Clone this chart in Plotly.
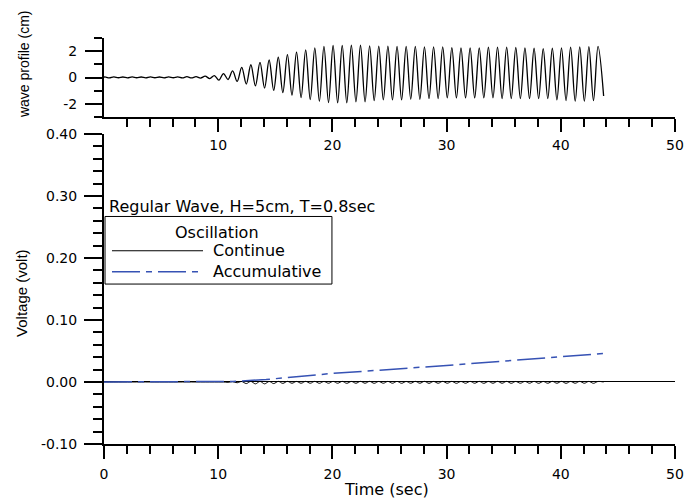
import plotly.graph_objects as go

# ---------------- data ----------------
# wave profile: crest / trough values per wave cycle (period 0.8 s)
WAVE_T0 = 0.06          # time of first crest (s)
HALF_PERIOD = 0.4       # s
WAVE_END_T = 43.75
WAVE_END_V = -1.40
wave_crest = [0.04, 0.05, 0.04, 0.05, 0.04, 0.05, 0.04, 0.05, 0.05, 0.06,
              0.06, 0.10, 0.15, 0.30, 0.50,
              0.77, 0.97, 1.15, 1.33, 1.54, 1.74, 1.92, 2.10, 2.25, 2.36,
              2.43, 2.43, 2.45, 2.45, 2.40, 2.38, 2.38, 2.36, 2.36, 2.36,
              2.32, 2.32, 2.32, 2.27, 2.25, 2.25, 2.25, 2.30, 2.30, 2.30,
              2.28, 2.25, 2.22, 2.20, 2.22, 2.25, 2.30, 2.33, 2.35, 2.36]
wave_trough = [-0.03, -0.02, -0.03, -0.02, -0.03, -0.02, -0.03, -0.02, -0.03, -0.03,
               -0.04, -0.08, -0.20, -0.15, -0.30,
               -0.50, -0.64, -0.80, -0.98, -1.15, -1.34, -1.52, -1.67, -1.80, -1.90,
               -1.92, -1.92, -1.85, -1.85, -1.75, -1.70, -1.70, -1.70, -1.65, -1.65,
               -1.60, -1.60, -1.55, -1.55, -1.55, -1.55, -1.55, -1.55, -1.60, -1.60,
               -1.60, -1.60, -1.60, -1.60, -1.70, -1.75, -1.80, -1.80, -1.75]

# voltage, "Continue": small oscillation per cycle
cont_crest = [0.0, 0.0, 0.0, 0.0, 0.0, 0.0, 0.0, 0.0, 0.0, 0.0,
              0.0, 0.0, 0.0, 0.0, 0.0005,
              0.0008, 0.0010, 0.0010, 0.0009, 0.0010, 0.0010, 0.0009, 0.0010, 0.0010, 0.0009,
              0.0010, 0.0010, 0.0009, 0.0010, 0.0010, 0.0009, 0.0010, 0.0010, 0.0009, 0.0010,
              0.0010, 0.0009, 0.0010, 0.0010, 0.0009, 0.0010, 0.0010, 0.0009, 0.0010, 0.0010,
              0.0009, 0.0010, 0.0010, 0.0009, 0.0010, 0.0010, 0.0009, 0.0010, 0.0010, 0.0009]
cont_trough = [0.0, 0.0, 0.0, 0.0, 0.0, 0.0, 0.0, 0.0, 0.0, 0.0,
               0.0, 0.0, 0.0, -0.0005, -0.0012,
               -0.0025, -0.0030, -0.0030, -0.0025, -0.0022, -0.0020, -0.0020, -0.0020, -0.0021, -0.0020,
               -0.0020, -0.0021, -0.0020, -0.0020, -0.0021, -0.0020, -0.0020, -0.0021, -0.0020, -0.0020,
               -0.0021, -0.0020, -0.0020, -0.0021, -0.0020, -0.0020, -0.0021, -0.0020, -0.0020, -0.0021,
               -0.0020, -0.0020, -0.0021, -0.0020, -0.0020, -0.0021, -0.0020, -0.0020, -0.0021]

# voltage, "Accumulative"
acc_t = [0, 8, 11.3, 14.2, 17.2, 20.1, 23.0, 25.9, 30, 35, 40, 43.75]
acc_v = [0, 0.0003, 0.001, 0.004, 0.0097, 0.014, 0.0177, 0.021, 0.0267, 0.0337, 0.0407, 0.046]

# tick labels
top_x_ticks = [10, 20, 30, 40, 50]
top_x_labels = ["10", "20", "30", "40", "50"]
top_y_ticks = [-2, 0, 2]
top_y_labels = ["-2", "0", "2"]
bot_x_ticks = [0, 10, 20, 30, 40, 50]
bot_x_labels = ["0", "10", "20", "30", "40", "50"]
bot_y_ticks = [-0.1, 0.0, 0.1, 0.2, 0.3, 0.4]
bot_y_labels = ["-0.10", "0.00", "0.10", "0.20", "0.30", "0.40"]

# ---------------- build series ----------------
def interleave(crest, trough, end_v):
    t, v = [0.0], [0.0]
    for k, c in enumerate(crest):
        t.append(WAVE_T0 + 2 * k * HALF_PERIOD)
        v.append(c)
        if k < len(trough):
            t.append(WAVE_T0 + (2 * k + 1) * HALF_PERIOD)
            v.append(trough[k])
    t.append(WAVE_END_T)
    v.append(end_v)
    return t, v

wave_t, wave_v = interleave(wave_crest, wave_trough, WAVE_END_V)
cont_t, cont_v = interleave(cont_crest, cont_trough, 0.0)

BLUE = "#3652b4"
DASH = "28px,6px,6px,6px"

fig = go.Figure()
fig.add_trace(go.Scatter(x=wave_t, y=wave_v, mode="lines", name="wave profile",
                         line=dict(color="black", width=1.3, shape="spline", smoothing=1.0),
                         xaxis="x", yaxis="y"))
fig.add_trace(go.Scatter(x=cont_t, y=cont_v, mode="lines", name="Continue",
                         line=dict(color="black", width=1, shape="spline", smoothing=1.0),
                         xaxis="x2", yaxis="y2"))
fig.add_trace(go.Scatter(x=acc_t, y=acc_v, mode="lines", name="Accumulative",
                         line=dict(color=BLUE, width=1.5, dash=DASH),
                         xaxis="x2", yaxis="y2"))

tickfont = dict(family="DejaVu Sans", size=14, color="black")
common = dict(showline=True, linecolor="black", linewidth=2, ticks="outside",
              tickwidth=2, tickcolor="black", showgrid=False,
              tickfont=tickfont)

minor_x = [v for v in range(2, 50, 2) if v % 10 != 0]
minor_y_bot = [round(-0.1 + 0.02 * i, 2) for i in range(26)]
minor_y_bot = [v for v in minor_y_bot if abs(round(v * 10) - v * 10) > 1e-6]

# page has an 8px body margin: figure is sized/margined so the plot area lands
# at page pixels x 104..675, y 38..444
fig.update_layout(
    width=688, height=492,
    margin=dict(l=96, r=21, t=30, b=56),
    plot_bgcolor="white", paper_bgcolor="white",
    showlegend=False,
    font=dict(family="DejaVu Sans", color="black"),
    xaxis=dict(domain=[0, 1], anchor="y", range=[0, 50],
               tickmode="array", tickvals=top_x_ticks, ticktext=top_x_labels, ticklen=13,
               ticklabelstandoff=1, zeroline=False,
               minor=dict(tickmode="array", tickvals=minor_x, ticks="outside", ticklen=8,
                          tickwidth=2, tickcolor="black", showgrid=False),
               **common),
    yaxis=dict(domain=[0.8054, 1], anchor="x", range=[-3, 3],
               tickmode="array", tickvals=top_y_ticks, ticktext=top_y_labels, ticklen=17,
               ticklabelstandoff=5, zeroline=False,
               minor=dict(tickmode="array", tickvals=[-3, -1, 1, 3], ticks="outside", ticklen=8,
                          tickwidth=2, tickcolor="black", showgrid=False),
               **common),
    xaxis2=dict(domain=[0, 1], anchor="y2", range=[0, 50],
                tickmode="array", tickvals=bot_x_ticks, ticktext=bot_x_labels, ticklen=13,
                ticklabelstandoff=3, zeroline=False,
                minor=dict(tickmode="array", tickvals=minor_x, ticks="outside", ticklen=8,
                           tickwidth=2, tickcolor="black", showgrid=False),
                **common),
    yaxis2=dict(domain=[0, 0.7635], anchor="x2", range=[-0.1, 0.4],
                tickmode="array", tickvals=bot_y_ticks, ticktext=bot_y_labels, ticklen=18,
                ticklabelstandoff=4,
                minor=dict(tickmode="array", tickvals=minor_y_bot, ticks="outside", ticklen=9,
                           tickwidth=2, tickcolor="black", showgrid=False),
                zeroline=True, zerolinecolor="black", zerolinewidth=1,
                **common),
)

# axis titles
fig.add_annotation(text="wave profile (cm)", xref="paper", yref="paper", x=-0.140, y=0.936,
                   textangle=-90, showarrow=False, xanchor="center", yanchor="middle",
                   font=dict(family="Liberation Sans", size=14, color="black"))
fig.add_annotation(text="Voltage (volt)", xref="paper", yref="paper", x=-0.1436, y=0.372,
                   textangle=-90, showarrow=False, xanchor="center", yanchor="middle",
                   font=dict(family="Liberation Sans", size=15, color="black"))
fig.add_annotation(text="Time (sec)", xref="paper", yref="paper", x=0.4956, y=-0.111,
                   showarrow=False, xanchor="center", yanchor="middle",
                   font=dict(family="DejaVu Sans", size=16, color="black"))

# legend (drawn manually to match the long line samples)
fig.add_annotation(text="Regular Wave, H=5cm, T=0.8sec", xref="x2", yref="y2", x=0.3, y=0.2835,
                   showarrow=False, xanchor="left", yanchor="middle",
                   font=dict(family="DejaVu Sans", size=16, color="black"))
fig.add_shape(type="rect", xref="x2", yref="y2", x0=0.09, x1=19.96, y0=0.158, y1=0.267,
              line=dict(color="black", width=1), fillcolor="white", layer="above")
fig.add_annotation(text="Oscillation", xref="x2", yref="y2", x=9.9, y=0.2405,
                   showarrow=False, xanchor="center", yanchor="middle",
                   font=dict(family="DejaVu Sans", size=16, color="black"))
fig.add_shape(type="line", xref="x2", yref="y2", x0=0.7, x1=8.67, y0=0.2117, y1=0.2117,
              line=dict(color="black", width=1), layer="above")
fig.add_annotation(text="Continue", xref="x2", yref="y2", x=9.4, y=0.2117,
                   showarrow=False, xanchor="left", yanchor="middle",
                   font=dict(family="DejaVu Sans", size=16, color="black"))
fig.add_shape(type="line", xref="x2", yref="y2", x0=0.7, x1=8.67, y0=0.178, y1=0.178,
              line=dict(color=BLUE, width=1.5, dash=DASH), layer="above")
fig.add_annotation(text="Accumulative", xref="x2", yref="y2", x=9.4, y=0.178,
                   showarrow=False, xanchor="left", yanchor="middle",
                   font=dict(family="DejaVu Sans", size=16, color="black"))

fig.write_html("out.html")
